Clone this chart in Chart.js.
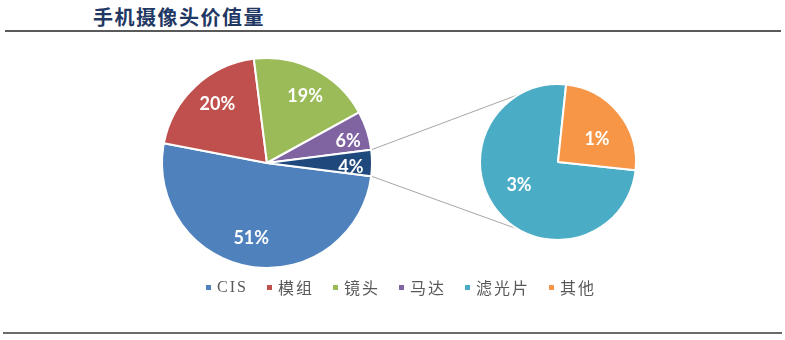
<!DOCTYPE html>
<html>
<head>
<meta charset="utf-8">
<script src="https://cdn.jsdelivr.net/npm/chart.js@4"></script>
<style>
  body { margin: 0; width: 785px; height: 340px; background: #fff; position: relative; overflow: hidden; }
  #title { position: absolute; left: 93px; top: 2px; font: 700 20px "Noto Sans CJK SC", sans-serif; letter-spacing: 1.5px; color: #1f3864; }
  .rule { position: absolute; left: 5px; width: 776px; height: 2px; background: #5a5a5a; }
  #topRule { top: 30px; }
  #bottomRule { top: 332px; left: 3px; width: 779px; background: #6a6a6a; }
  canvas { position: absolute; }
  #links { left: 0; top: 0; }
  #mainPie { left: 147px; top: 43px; }
  #subPie { left: 468px; top: 72px; }
  #legend { position: absolute; left: 206px; top: 275px; display: flex; align-items: center; font: 16px "Liberation Serif", "Noto Sans CJK SC", serif; color: #595959; }
  .item { display: flex; align-items: center; margin-right: 19px; letter-spacing: 2px; }
  .mark { width: 5px; height: 5px; margin-right: 6px; }
</style>
</head>
<body>
<div id="title">手机摄像头价值量</div>
<div class="rule" id="topRule"></div>
<canvas id="links" width="785" height="340"></canvas>
<canvas id="mainPie" width="240" height="240"></canvas>
<canvas id="subPie" width="180" height="180"></canvas>
<div id="legend"></div>
<div class="rule" id="bottomRule"></div>
<script>
//Main pie: the last slice is the "other" group that is split out in the small pie.
const mainLabels = ['CIS', '模组', '镜头', '马达', '其他'];
const mainValues = [51, 20, 19, 6, 4];
const mainColors = ['#4f81bd', '#c0504d', '#9bbb59', '#8064a2', '#1f497d'];

//Small pie on the right.
const subLabels = ['滤光片', '其他'];
const subValues = [3, 1];
const subColors = ['#4bacc6', '#f79646'];

//Legend entries (the grouped slice is not in the legend).
const legendLabels = ['CIS', '模组', '镜头', '马达', '滤光片', '其他'];
const legendColors = ['#4f81bd', '#c0504d', '#9bbb59', '#8064a2', '#4bacc6', '#f79646'];

//Plugin that writes the white percentage labels inside each slice.
const sliceLabels = {
    id: 'sliceLabels',
    afterDatasetsDraw(chart, args, opts) {
        const ctx = chart.ctx;
        const data = chart.data.datasets[0].data;
        ctx.save();
        ctx.fillStyle = '#ffffff';
        ctx.font = 'bold 18px Lato, sans-serif';
        ctx.textAlign = 'center';
        ctx.textBaseline = 'middle';
        chart.getDatasetMeta(0).data.forEach((arc, i) => {
            const mid = (arc.startAngle + arc.endAngle) / 2 + (opts.shift || 0);
            const f = data[i] < 10 && opts.small ? opts.small : opts.frac;
            const r = arc.outerRadius * f;
            ctx.fillText(data[i] + '%', arc.x + Math.cos(mid) * r, arc.y + Math.sin(mid) * r);
        });
        ctx.restore();
    }
};

function pieOptions(rotation, radius, frac, small, shift) {
    return {
        responsive: false,
        animation: false,
        devicePixelRatio: 1,
        events: [],
        rotation: rotation,
        radius: radius,
        layout: { padding: 0 },
        plugins: {
            legend: { display: false },
            tooltip: { enabled: false },
            sliceLabels: { frac: frac, small: small, shift: shift }
        }
    };
}

const mainChart = new Chart(document.getElementById('mainPie'), {
    type: 'pie',
    data: {
        labels: mainLabels,
        datasets: [{ data: mainValues, backgroundColor: mainColors, borderColor: '#ffffff', borderWidth: 2 }]
    },
    options: pieOptions(97.2, 105, 0.73, 0.8, 0.05),
    plugins: [sliceLabels]
});

const subChart = new Chart(document.getElementById('subPie'), {
    type: 'pie',
    data: {
        labels: subLabels,
        datasets: [{ data: subValues, backgroundColor: subColors, borderColor: '#ffffff', borderWidth: 2 }]
    },
    options: pieOptions(96, 78, 0.58, null, 0.15),
    plugins: [sliceLabels]
});

//Connector lines from the grouped slice to the small pie.
function drawLinks() {
    const mainCanvas = document.getElementById('mainPie');
    const subCanvas = document.getElementById('subPie');
    const meta = mainChart.getDatasetMeta(0).data;
    const grp = meta[meta.length - 1];
    const sub = subChart.getDatasetMeta(0).data[0];
    const ox = mainCanvas.offsetLeft, oy = mainCanvas.offsetTop;
    const sx = subCanvas.offsetLeft + sub.x, sy = subCanvas.offsetTop + sub.y;
    const R = grp.outerRadius, r = sub.outerRadius;
    const ends = [
        [grp.startAngle, -2 * Math.PI / 3],
        [grp.endAngle, 2 * Math.PI / 3]
    ];
    const ctx = document.getElementById('links').getContext('2d');
    ctx.strokeStyle = '#a6a6a6';
    ctx.lineWidth = 1;
    ends.forEach(([a, b]) => {
        ctx.beginPath();
        ctx.moveTo(ox + grp.x + Math.cos(a) * R, oy + grp.y + Math.sin(a) * R);
        ctx.lineTo(sx + Math.cos(b) * r, sy + Math.sin(b) * r);
        ctx.stroke();
    });
}
drawLinks();

//Legend built from the legend arrays.
const legend = document.getElementById('legend');
legendLabels.forEach((name, i) => {
    const item = document.createElement('div');
    item.className = 'item';
    const mark = document.createElement('span');
    mark.className = 'mark';
    mark.style.background = legendColors[i];
    const text = document.createElement('span');
    text.innerText = name;
    item.appendChild(mark);
    item.appendChild(text);
    legend.appendChild(item);
});
</script>
</body>
</html>
